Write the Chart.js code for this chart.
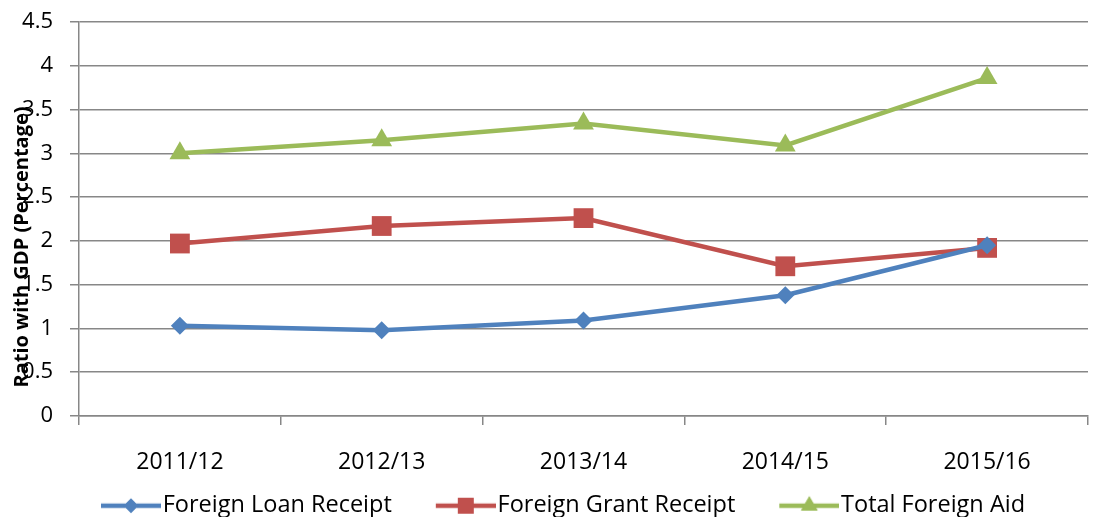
<!DOCTYPE html>
<html>
<head>
<meta charset="utf-8">
<script src="https://cdn.jsdelivr.net/npm/chart.js@4.4.1/dist/chart.umd.min.js"></script>
<style>
  html, body { margin: 0; padding: 0; background: #fff; }
  #wrap { width: 1102px; height: 517px; position: relative; }
</style>
</head>
<body>
<div id="wrap"><canvas id="aidChart"></canvas></div>
<script>
// ── Datos ────────────────────────────────────────────────────
const YEARS      = ['2011/12', '2012/13', '2013/14', '2014/15', '2015/16'];
const LOAN       = [1.03, 0.98, 1.09, 1.38, 1.95];
const GRANT      = [1.97, 2.17, 2.26, 1.71, 1.92];
const TOTAL_AID  = [3.00, 3.15, 3.34, 3.09, 3.86];
const Y_TITLE    = 'Ratio with GDP (Percentage)';

const FONT  = '"Open Sans", "DejaVu Sans", sans-serif';
const GRID  = '#878787';

const SERIES = [
  { label: 'Foreign Loan Receipt',  data: LOAN,      color: '#4F81BD', style: 'rectRot',  radius: 9 },
  { label: 'Foreign Grant Receipt', data: GRANT,     color: '#C0504D', style: 'rect',     radius: 14 },
  { label: 'Total Foreign Aid',     data: TOTAL_AID, color: '#9BBB59', style: 'triangle', radius: 12 },
];

// legend icon: empty lead (spacing between items) + line with marker
const ICON_LEAD = 28, ICON_BOX = 78, ICON_EXT = 10;
function legendIcon(s) {
  const c = document.createElement('canvas');
  c.width = ICON_BOX + 2 * ICON_EXT; c.height = 24;
  const g = c.getContext('2d');
  const x0 = ICON_EXT + ICON_LEAD, x1 = c.width;
  g.strokeStyle = s.color; g.lineWidth = 4.5;
  g.beginPath(); g.moveTo(x0, 12); g.lineTo(x1, 12); g.stroke();
  g.fillStyle = s.color;
  Chart.helpers.drawPoint(g, { pointStyle: s.style, radius: s.radius * 0.8, rotation: 0, borderWidth: 0 }, (x0 + x1) / 2, 12);
  g.fill();
  return c;
}

// axis title drawn over the tick labels, as in the original
const yTitlePlugin = {
  id: 'yTitle',
  afterDraw(chart) {
    const { ctx, chartArea } = chart;
    ctx.save();
    ctx.translate(chartArea.left - 57, (chartArea.top + chartArea.bottom) / 2 + 28);
    ctx.rotate(-Math.PI / 2);
    ctx.font = 'bold 20px ' + FONT;
    ctx.fillStyle = '#000';
    ctx.textAlign = 'center';
    ctx.textBaseline = 'middle';
    ctx.fillText(Y_TITLE, 0, 0);
    ctx.restore();
  },
};

new Chart(document.getElementById('aidChart'), {
  type: 'line',
  data: {
    labels: YEARS,
    datasets: SERIES.map(s => ({
      label: s.label,
      data: s.data,
      borderColor: s.color,
      backgroundColor: s.color,
      borderWidth: 4.5,
      tension: 0,
      pointStyle: s.style,
      pointRadius: s.radius,
      pointHoverRadius: s.radius,
      pointBorderWidth: 0,
      pointBackgroundColor: s.color,
      legendIcon: legendIcon(s),
    })),
  },
  options: {
    responsive: true, maintainAspectRatio: false, animation: false,
    layout: { padding: { top: 0, right: 4, left: 0, bottom: 0 } },
    plugins: {
      tooltip: { enabled: false },
      legend: {
        position: 'bottom',
        maxHeight: 39,
        labels: {
          usePointStyle: true,
          pointStyleWidth: ICON_BOX,
          padding: 16,
          color: '#000',
          font: { family: FONT, size: 23.5 },
          generateLabels(chart) {
            return chart.data.datasets.map((d, i) => ({
              text: d.label,
              pointStyle: d.legendIcon,
              fillStyle: d.borderColor,
              strokeStyle: d.borderColor,
              lineWidth: 0,
              hidden: false,
              datasetIndex: i,
              fontColor: '#000',
            }));
          },
        },
      },
    },
    scales: {
      x: {
        offset: true,
        grid: { offset: true, drawOnChartArea: false, drawTicks: true, tickLength: 9, color: GRID, lineWidth: 1.5 },
        border: { color: GRID, width: 1.5 },
        ticks: { color: '#000', font: { family: FONT, size: 23 }, padding: 24, maxRotation: 0 },
        afterFit(s) { s.height = 62; },
      },
      y: {
        min: 0, max: 4.5,
        grid: { color: GRID, lineWidth: 1.5, drawTicks: true, tickLength: 9 },
        border: { color: GRID, width: 1.5 },
        ticks: { stepSize: 0.5, color: '#000', font: { family: FONT, size: 22 }, padding: 17, callback: v => String(v) },
        afterFit(s) { s.width = 79; s.paddingTop = 22; s.paddingBottom = 0; },
      },
    },
  },
  plugins: [yTitlePlugin],
});
</script>
</body>
</html>
